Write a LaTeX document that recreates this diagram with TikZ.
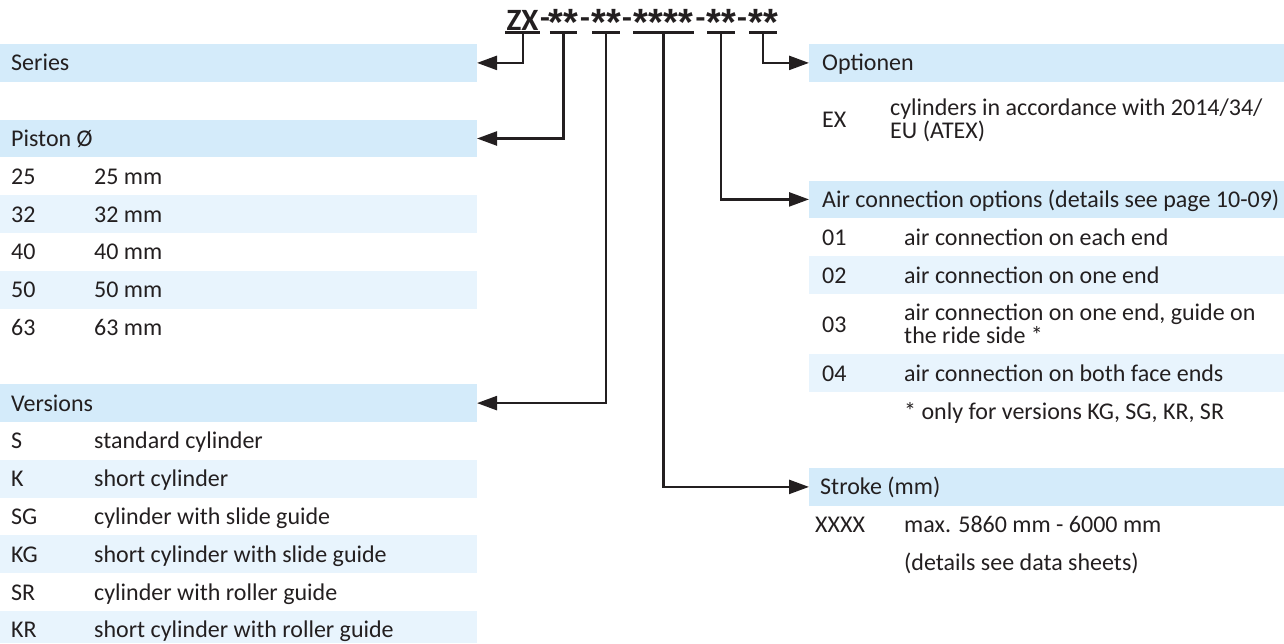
\documentclass[tikz,border=0pt]{standalone}
\usepackage{fontspec}
\setmainfont{Carlito}
\newfontfamily\codefont{Liberation Sans}
\usetikzlibrary{arrows.meta,calc}
\definecolor{hdr}{RGB}{212,235,250}
\definecolor{alt}{RGB}{232,244,253}
\definecolor{ink}{RGB}{35,31,32}
\begin{document}
\begin{tikzpicture}[x=1pt,y=-1pt,
  font=\fontsize{24}{20}\selectfont, text=ink,
  bar/.style={fill=hdr, draw=none, anchor=north west, inner sep=0pt, outer sep=0pt, minimum height=37.8pt},
  altrow/.style={fill=alt, draw=none, anchor=north west, inner sep=0pt, outer sep=0pt, minimum height=37.8pt},
  lbl/.style={anchor=base west, inner sep=0pt},
  code/.style={anchor=base, inner sep=0pt, font=\fontsize{31}{31}\selectfont\bfseries},
  dashcode/.style={anchor=base, inner sep=0pt, font=\fontsize{32}{32}\selectfont\bfseries},
  starcode/.style={anchor=base, inner sep=0pt, font=\codefont\bfseries\fontsize{38}{38}\selectfont},
  uline/.style={draw=ink, line width=2.4pt},
  conn/.style={draw=ink, line width=2.4pt, -{Triangle[length=20pt,width=14pt]}},
]
\useasboundingbox (0,0) rectangle (1284,643);

% ---------- left column backgrounds ----------
\node[bar, minimum width=477pt] (series) at (0,44) {};
\node[bar, minimum width=477pt] (piston) at (0,119.6) {};
\node[altrow, minimum width=477pt] (bg32) at (0,195.2) {};
\node[altrow, minimum width=477pt] (bg50) at (0,270.8) {};
\node[bar, minimum width=477pt] (versions) at (0,384.2) {};
\node[altrow, minimum width=477pt] (bgK) at (0,459.8) {};
\node[altrow, minimum width=477pt] (bgKG) at (0,535.4) {};
\node[altrow, minimum width=477pt, minimum height=32pt] (bgKR) at (0,611) {};

% ---------- right column backgrounds ----------
\node[bar, minimum width=475pt] (optionen) at (809,44) {};
\node[bar, minimum width=475pt] (air) at (809,180.5) {};
\node[altrow, minimum width=475pt] (bg02) at (809,256.1) {};
\node[altrow, minimum width=475pt] (bg04) at (809,354.4) {};
\node[bar, minimum width=475pt] (stroke) at (809,468) {};

% ---------- left texts ----------
\node[lbl] (tSeries) at (11,70.9) {Series};
\node[lbl] (tPiston) at (11,146.5) {Piston Ø};
\node[lbl] (a25) at (11,184.3) {25};   \node[lbl] (b25) at (94,184.3) {25 mm};
\node[lbl] (a32) at (11,222.1) {32};   \node[lbl] (b32) at (94,222.1) {32 mm};
\node[lbl] (a40) at (11,259.9) {40};   \node[lbl] (b40) at (94,259.9) {40 mm};
\node[lbl] (a50) at (11,297.7) {50};   \node[lbl] (b50) at (94,297.7) {50 mm};
\node[lbl] (a63) at (11,335.5) {63};   \node[lbl] (b63) at (94,335.5) {63 mm};
\node[lbl] (tVersions) at (11,411.1) {Versions};
\node[lbl] (aS) at (11,448.9) {S};    \node[lbl] (bS) at (94,448.9) {standard cylinder};
\node[lbl] (aK) at (11,486.7) {K};    \node[lbl] (bK) at (94,486.7) {short cylinder};
\node[lbl] (aSG) at (11,524.5) {SG};  \node[lbl] (bSG) at (94,524.5) {cylinder with slide guide};
\node[lbl] (aKG) at (11,562.3) {KG};  \node[lbl] (bKG) at (94,562.3) {short cylinder with slide guide};
\node[lbl] (aSR) at (11,600.1) {SR};  \node[lbl] (bSR) at (94,600.1) {cylinder with roller guide};
\node[lbl] (aKR) at (11,637.9) {KR};  \node[lbl] (bKR) at (94,637.9) {short cylinder with roller guide};

% ---------- right texts ----------
\node[lbl] (tOptionen) at (822,70.9) {Optionen};
\node[lbl] (aEX) at (822,127) {EX};
\node[lbl] (bEX1) at (890,115.5) {cylinders in accordance with 2014/34/};
\node[lbl] (bEX2) at (890,138.5) {EU (ATEX)};
\node[lbl] (tAir) at (822,207.4) {Air connection options (details see page 10-09)};
\node[lbl] (a01) at (822,245.2) {01}; \node[lbl] (b01) at (904,245.2) {air connection on each end};
\node[lbl] (a02) at (822,283) {02};   \node[lbl] (b02) at (904,283) {air connection on one end};
\node[lbl] (a03) at (822,332) {03};
\node[lbl] (b03a) at (904,320.5) {air connection on one end, guide on};
\node[lbl] (b03b) at (904,343.5) {the ride side *};
\node[lbl] (a04) at (822,381.3) {04}; \node[lbl] (b04) at (904,381.3) {air connection on both face ends};
\node[lbl] (note) at (904,419.1) {* only for versions KG, SG, KR, SR};
\node[lbl] (tStroke) at (820,494.9) {Stroke (mm)};
\node[lbl] (aX) at (815,532.7) {XXXX}; \node[lbl] (bX) at (904,532.7) {max. 5860 mm - 6000 mm};
\node[lbl] (cX) at (904,570.5) {(details see data sheets)};

% ---------- order code ----------
\node[code] (cZX) at (522.5,30) {ZX};
\node[dashcode] (d1) at (545,29.5) {\raisebox{1pt}{-}};
\node[starcode] (c1) at (563.5,29.5) {\raisebox{-6pt}{**}};
\node[dashcode] (d2) at (585,29.5) {\raisebox{1pt}{-}};
\node[starcode] (c2) at (606,29.5) {\raisebox{-6pt}{**}};
\node[dashcode] (d3) at (627,29.5) {\raisebox{1pt}{-}};
\node[starcode] (c3) at (663.5,29.5) {\raisebox{-6pt}{****}};
\node[dashcode] (d4) at (700.5,29.5) {\raisebox{1pt}{-}};
\node[starcode] (c4) at (721,29.5) {\raisebox{-6pt}{**}};
\node[dashcode] (d5) at (742,29.5) {\raisebox{1pt}{-}};
\node[starcode] (c5) at (763,29.5) {\raisebox{-6pt}{**}};

% underlines
\draw[uline] ($(cZX.base)+(-17.5,2.5)$) -- ($(cZX.base)+(17.5,2.5)$);
\draw[uline] ($(c1.base)+(-13.75,3)$) -- ($(c1.base)+(13.75,3)$);
\draw[uline] ($(c2.base)+(-13.75,3)$) -- ($(c2.base)+(13.75,3)$);
\draw[uline] ($(c3.base)+(-30.5,3)$) -- ($(c3.base)+(30.5,3)$);
\draw[uline] ($(c4.base)+(-13.75,3)$) -- ($(c4.base)+(13.75,3)$);
\draw[uline] ($(c5.base)+(-13.75,3)$) -- ($(c5.base)+(13.75,3)$);

% connectors
\draw[conn] ($(cZX.base)+(0.5,2.5)$) |- (series.east);
\draw[conn] ($(c1.base)+(0,3)$) |- (piston.east);
\draw[conn] ($(c2.base)+(0,3)$) |- (versions.east);
\draw[conn] ($(c3.base)+(0,3)$) |- (stroke.west);
\draw[conn] ($(c4.base)+(0,3)$) |- (air.west);
\draw[conn] ($(c5.base)+(0,3)$) |- (optionen.west);
\end{tikzpicture}
\end{document}
